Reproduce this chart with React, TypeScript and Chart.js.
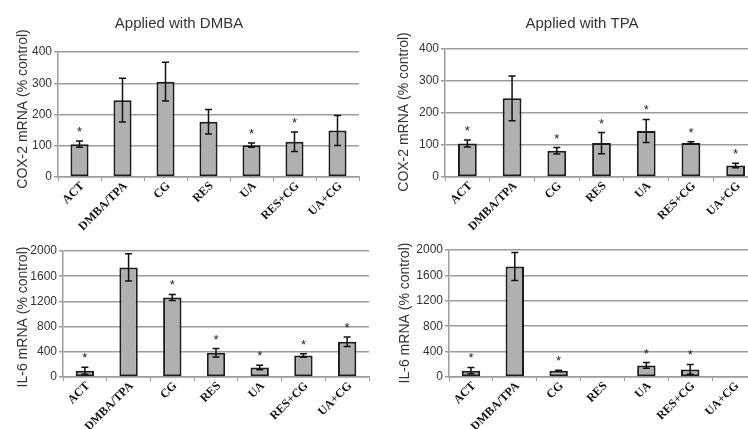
import React, { useEffect, useRef } from 'react';
import { Chart, registerables } from 'chart.js';

Chart.register(...registerables);

const categories = ['ACT', 'DMBA/TPA', 'CG', 'RES', 'UA', 'RES+CG', 'UA+CG'];

const cox2DmbaValues = [105, 246, 305, 177, 102, 113, 149];
const cox2DmbaErrors = [10, 70, 62, 39, 7, 31, 48];
const cox2DmbaSignificant = [true, false, false, false, true, true, false];

const cox2TpaValues = [105, 246, 82, 106, 144, 106, 36];
const cox2TpaErrors = [11, 70, 10, 33, 36, 4, 7];
const cox2TpaSignificant = [true, false, true, true, true, true, true];

const il6DmbaValues = [100, 1740, 1263, 384, 152, 341, 560];
const il6DmbaErrors = [55, 215, 48, 67, 35, 27, 75];
const il6DmbaSignificant = [true, false, true, true, true, true, true];

const il6TpaValues: (number | null)[] = [100, 1740, 100, null, 182, 120, null];
const il6TpaErrors: (number | null)[] = [50, 220, 5, null, 45, 78, null];
const il6TpaSignificant = [true, false, true, false, true, true, false];

const cox2Ticks = { max: 400, step: 100 };
const il6Ticks = { max: 2000, step: 400 };

type PanelCfg = {
  left: number;
  top: number;
  width: number;
  height: number;
  title?: string;
  titleX?: number;
  titleY?: number;
  yTitle: string;
  yTitleX: number;
  yTitleY: number;
  yWidth: number;
  padTop: number;
  padRight: number;
  xHeight: number;
  max: number;
  step: number;
  values: (number | null)[];
  errors: (number | null)[];
  significant: boolean[];
};

const panels: PanelCfg[] = [
  {
    left: 0, top: 0, width: 374, height: 240,
    title: 'Applied with DMBA', titleX: 179, titleY: 24,
    yTitle: 'COX-2 mRNA (% control)', yTitleX: 23, yTitleY: 109,
    yWidth: 58, padTop: 52, padRight: 15, xHeight: 63,
    max: cox2Ticks.max, step: cox2Ticks.step,
    values: cox2DmbaValues, errors: cox2DmbaErrors, significant: cox2DmbaSignificant,
  },
  {
    left: 374, top: 0, width: 400, height: 240,
    title: 'Applied with TPA', titleX: 208, titleY: 24,
    yTitle: 'COX-2 mRNA (% control)', yTitleX: 30, yTitleY: 112,
    yWidth: 71, padTop: 49, padRight: 16, xHeight: 63,
    max: cox2Ticks.max, step: cox2Ticks.step,
    values: cox2TpaValues, errors: cox2TpaErrors, significant: cox2TpaSignificant,
  },
  {
    left: 0, top: 215, width: 374, height: 214,
    yTitle: 'IL-6 mRNA (% control)', yTitleX: 23, yTitleY: 102,
    yWidth: 63, padTop: 36, padRight: 5, xHeight: 52,
    max: il6Ticks.max, step: il6Ticks.step,
    values: il6DmbaValues, errors: il6DmbaErrors, significant: il6DmbaSignificant,
  },
  {
    left: 374, top: 215, width: 400, height: 214,
    yTitle: 'IL-6 mRNA (% control)', yTitleX: 31, yTitleY: 98,
    yWidth: 75, padTop: 35, padRight: 18, xHeight: 52,
    max: il6Ticks.max, step: il6Ticks.step,
    values: il6TpaValues, errors: il6TpaErrors, significant: il6TpaSignificant,
  },
];

const TEXT = '#333333';
const GRID = '#9c9c9c';

function makeDecorPlugin(cfg: PanelCfg) {
  return {
    id: 'decor',
    afterDatasetsDraw(chart: any) {
      const ctx = chart.ctx as CanvasRenderingContext2D;
      const meta = chart.getDatasetMeta(0);
      const yScale = chart.scales.y;
      ctx.save();
      ctx.strokeStyle = '#111111';
      ctx.lineWidth = 1.5;
      cfg.values.forEach((v, i) => {
        if (v === null || v === undefined) return;
        const el = meta.data[i];
        if (!el) return;
        const x = el.x;
        const e = cfg.errors[i] ?? 0;
        const yTop = yScale.getPixelForValue(v + e);
        const yBot = yScale.getPixelForValue(v - e);
        if (e > 0) {
          ctx.beginPath();
          ctx.moveTo(x, yTop);
          ctx.lineTo(x, yBot);
          ctx.moveTo(x - 3.5, yTop);
          ctx.lineTo(x + 3.5, yTop);
          ctx.moveTo(x - 3.5, yBot);
          ctx.lineTo(x + 3.5, yBot);
          ctx.stroke();
        }
        if (cfg.significant[i]) {
          ctx.fillStyle = '#222222';
          ctx.font = '13px "Liberation Sans", Arial, sans-serif';
          ctx.textAlign = 'center';
          ctx.textBaseline = 'alphabetic';
          ctx.fillText('*', x, yTop - 12 + 7);
        }
      });
      ctx.restore();
    },
    afterDraw(chart: any) {
      const ctx = chart.ctx as CanvasRenderingContext2D;
      ctx.save();
      ctx.fillStyle = TEXT;
      ctx.textAlign = 'center';
      ctx.textBaseline = 'middle';
      if (cfg.title) {
        ctx.font = '15px "Liberation Sans", Arial, sans-serif';
        ctx.fillText(cfg.title, cfg.titleX as number, cfg.titleY as number);
      }
      ctx.translate(cfg.yTitleX, cfg.yTitleY);
      ctx.rotate(-Math.PI / 2);
      ctx.font = '14px "Liberation Sans", Arial, sans-serif';
      ctx.fillText(cfg.yTitle, 0, 0);
      ctx.restore();
    },
  };
}

function Panel({ cfg }: { cfg: PanelCfg }) {
  const ref = useRef<HTMLCanvasElement>(null);
  useEffect(() => {
    const canvas = ref.current;
    if (!canvas) return;
    const chart = new Chart(canvas, {
      type: 'bar',
      data: {
        labels: categories,
        datasets: [
          {
            data: cfg.values as any,
            backgroundColor: '#b0b0b0',
            borderColor: '#1c1c1c',
            borderWidth: 2,
            borderSkipped: false,
            barPercentage: 0.42,
            categoryPercentage: 1,
          },
        ],
      },
      options: {
        responsive: false,
        animation: false,
        devicePixelRatio: 1,
        layout: { padding: { top: cfg.padTop, right: cfg.padRight, left: 0, bottom: 0 } },
        plugins: {
          legend: { display: false },
          tooltip: { enabled: false },
          title: { display: false },
        },
        scales: {
          x: {
            grid: {
              offset: true,
              drawOnChartArea: false,
              drawTicks: true,
              tickLength: 4,
              color: GRID,
              lineWidth: 1,
            },
            border: { color: GRID, width: 1.5 },
            ticks: {
              minRotation: 45,
              maxRotation: 45,
              autoSkip: false,
              padding: -2,
              labelOffset: 3,
              color: '#111111',
              font: { family: '"Liberation Serif", "Times New Roman", serif', size: 12, weight: 'bold' },
            },
            afterFit: (s: any) => {
              s.height = cfg.xHeight;
            },
          } as any,
          y: {
            min: 0,
            max: cfg.max,
            ticks: {
              stepSize: cfg.step,
              padding: 2,
              color: TEXT,
              font: { family: '"Liberation Sans", Arial, sans-serif', size: 12 },
              callback: (v: any) => String(v),
            },
            grid: { color: GRID, lineWidth: 1.5, tickLength: 4 },
            border: { color: GRID, width: 1.5 },
            afterFit: (s: any) => {
              s.width = cfg.yWidth;
            },
          } as any,
        },
      },
      plugins: [makeDecorPlugin(cfg)],
    });
    return () => chart.destroy();
  }, [cfg]);
  return (
    <canvas
      ref={ref}
      width={cfg.width}
      height={cfg.height}
      style={{ position: 'absolute', left: cfg.left, top: cfg.top, width: cfg.width, height: cfg.height }}
    />
  );
}

export default function App() {
  return (
    <div
      style={{
        position: 'fixed',
        left: 0,
        top: 0,
        width: 748,
        height: 429,
        overflow: 'hidden',
        background: '#ffffff',
      }}
    >
      {panels.map((p, i) => (
        <Panel key={i} cfg={p} />
      ))}
    </div>
  );
}
